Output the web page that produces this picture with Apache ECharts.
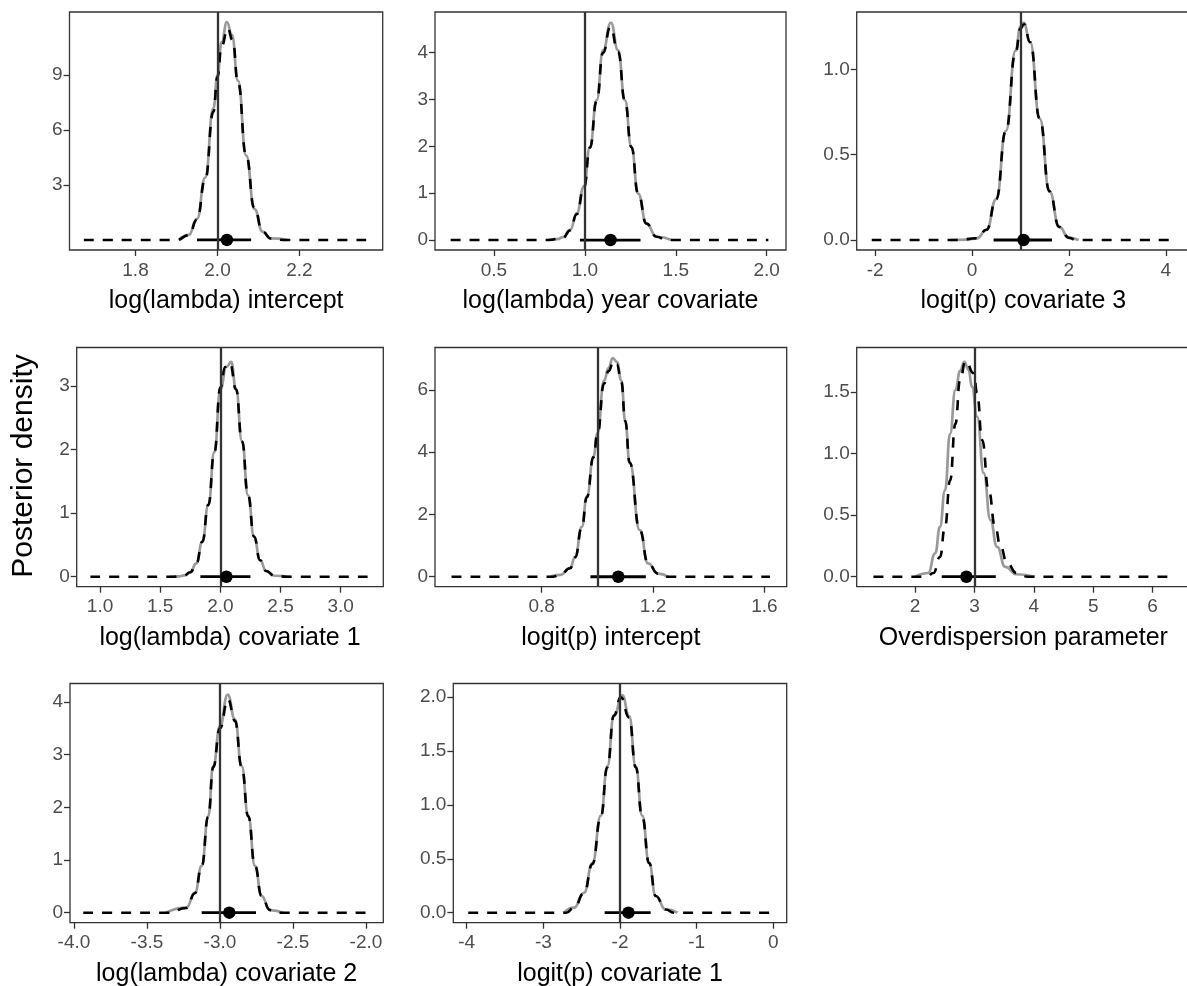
<!DOCTYPE html>
<html><head><meta charset="utf-8">
<script src="https://cdn.jsdelivr.net/npm/echarts@6/dist/echarts.min.js"></script>
<style>html,body{margin:0;padding:0;background:#fff}#c{width:1187px;height:986px}</style>
</head><body><div id="c"></div>
<script>
// ---------- DATA ----------
const titles = ["log(lambda) intercept","log(lambda) year covariate","logit(p) covariate 3",
  "log(lambda) covariate 1","logit(p) intercept","Overdispersion parameter",
  "log(lambda) covariate 2","logit(p) covariate 1"];

const xLimits = [[1.639,2.403],[0.176,2.106],[-2.38,4.50],[0.806,3.354],[0.4166,1.68],[1.018,6.63],[-4.027,-1.881],[-4.175,0.175]];
const yLimits = [[-0.55,12.45],[-0.213,4.87],[-0.0586,1.337],[-0.157,3.607],[-0.32,7.36],[-0.081,1.86],[-0.19,4.35],[-0.093,2.127]];

const xTicks = [[1.8,2.0,2.2],[0.5,1.0,1.5,2.0],[-2,0,2,4],[1.0,1.5,2.0,2.5,3.0],[0.8,1.2,1.6],[2,3,4,5,6],[-4,-3.5,-3,-2.5,-2],[-4,-3,-2,-1,0]];
const xTickLabels = [["1.8","2.0","2.2"],["0.5","1.0","1.5","2.0"],["-2","0","2","4"],["1.0","1.5","2.0","2.5","3.0"],["0.8","1.2","1.6"],["2","3","4","5","6"],["-4.0","-3.5","-3.0","-2.5","-2.0"],["-4","-3","-2","-1","0"]];
const yTicks = [[3,6,9],[0,1,2,3,4],[0,0.5,1.0],[0,1,2,3],[0,2,4,6],[0,0.5,1.0,1.5],[0,1,2,3,4],[0,0.5,1.0,1.5,2.0]];
const yTickLabels = [["3","6","9"],["0","1","2","3","4"],["0.0","0.5","1.0"],["0","1","2","3"],["0","2","4","6"],["0.0","0.5","1.0","1.5"],["0","1","2","3","4"],["0.0","0.5","1.0","1.5","2.0"]];

const trueValues = [2.0,1.0,1.0,2.0,1.0,3.0,-3.0,-2.0];
const pointEstimates = [2.023,1.141,1.064,2.05,1.075,2.865,-2.936,-1.89];
const ciLower = [1.95,0.973,0.446,1.834,0.975,2.45,-3.125,-2.2];
const ciUpper = [2.082,1.306,1.65,2.25,1.174,3.36,-2.753,-1.6];

const p1Grey = [[1.905,0],[1.93,0.28],[1.95,1.15],[1.97,3.4],[1.99,7.2],[2.00,9.0],[2.01,10.8],[2.023,11.9],[2.035,11.2],[2.05,8.7],[2.07,4.6],[2.09,1.7],[2.11,0.45],[2.13,0.08],[2.17,0]];
const p1Dash = [[1.674,0],[1.90,0],[1.93,0.25],[1.95,1.1],[1.97,3.3],[1.99,7.0],[2.00,8.9],[2.01,10.6],[2.025,11.55],[2.037,10.9],[2.05,8.6],[2.07,4.6],[2.09,1.75],[2.11,0.45],[2.13,0.08],[2.16,0],[2.368,0]];

const p2Grey = [[0.797,0],[0.85,0.02],[0.88,0.06],[0.92,0.22],[0.955,0.57],[0.995,1.14],[1.028,1.99],[1.065,2.99],[1.10,4.05],[1.143,4.64],[1.183,4.05],[1.22,2.99],[1.256,1.99],[1.293,0.99],[1.339,0.35],[1.394,0.07],[1.476,0]];
const p2Dash = [[0.262,0],[0.80,0],[0.88,0.05],[0.92,0.21],[0.955,0.55],[0.995,1.12],[1.028,1.97],[1.065,2.97],[1.10,4.0],[1.14,4.55],[1.183,4.02],[1.22,2.98],[1.256,1.98],[1.293,0.99],[1.339,0.35],[1.394,0.07],[1.45,0],[2.009,0]];

const p3Grey = [[-0.45,0],[-0.1,0.002],[0.1,0.01],[0.3,0.06],[0.5,0.24],[0.7,0.64],[0.9,1.11],[1.0,1.25],[1.065,1.275],[1.2,1.16],[1.4,0.71],[1.6,0.285],[1.8,0.077],[2.0,0.013],[2.2,0]];
const p3Dash = [[-2.07,0],[-0.3,0],[0.1,0.01],[0.3,0.06],[0.5,0.24],[0.7,0.64],[0.9,1.10],[1.0,1.24],[1.075,1.265],[1.2,1.16],[1.4,0.71],[1.6,0.285],[1.8,0.077],[2.0,0.013],[2.15,0],[4.19,0]];

const p4Grey = [[1.58,0],[1.65,0.005],[1.7,0.02],[1.75,0.07],[1.8,0.21],[1.85,0.55],[1.9,1.13],[1.95,1.96],[2.0,2.95],[2.05,3.3],[2.09,3.38],[2.13,2.95],[2.18,2.13],[2.23,1.28],[2.28,0.63],[2.33,0.26],[2.38,0.09],[2.45,0.015],[2.58,0]];
const p4Dash = [[0.92,0],[1.6,0],[1.7,0.02],[1.75,0.07],[1.8,0.21],[1.85,0.55],[1.9,1.13],[1.95,1.96],[2.0,2.98],[2.04,3.3],[2.08,3.36],[2.13,2.95],[2.18,2.13],[2.23,1.28],[2.28,0.63],[2.33,0.26],[2.38,0.09],[2.45,0.015],[2.55,0],[3.24,0]];

const p5Grey = [[0.83,0],[0.866,0.06],[0.902,0.28],[0.92,0.64],[0.944,1.6],[0.962,2.57],[0.986,3.86],[1.0,4.6],[1.024,6.3],[1.04,6.7],[1.055,7.02],[1.07,6.9],[1.086,6.3],[1.10,5.0],[1.116,3.66],[1.152,1.5],[1.182,0.43],[1.218,0.1],[1.254,0]];
const p5Dash = [[0.476,0],[0.84,0],[0.866,0.06],[0.902,0.27],[0.92,0.62],[0.944,1.58],[0.962,2.55],[0.986,3.84],[1.0,4.58],[1.024,6.2],[1.04,6.6],[1.058,6.92],[1.07,6.82],[1.086,6.25],[1.10,5.0],[1.116,3.66],[1.152,1.5],[1.182,0.43],[1.218,0.1],[1.25,0],[1.62,0]];

const p6Grey = [[2.0,0],[2.22,0.03],[2.34,0.19],[2.42,0.405],[2.505,0.70],[2.59,1.16],[2.68,1.514],[2.76,1.67],[2.83,1.744],[2.9,1.68],[2.96,1.54],[3.045,1.30],[3.157,0.84],[3.27,0.46],[3.38,0.243],[3.52,0.08],[3.71,0.02],[4.02,0]];
const p6Dash = [[1.3,0],[2.2,0],[2.31,0.03],[2.42,0.16],[2.505,0.405],[2.59,0.78],[2.68,1.24],[2.76,1.6],[2.85,1.75],[2.99,1.65],[3.045,1.49],[3.13,1.11],[3.24,0.70],[3.35,0.405],[3.44,0.243],[3.55,0.11],[3.71,0.03],[3.9,0],[6.37,0]];

const p7Grey = [[-3.37,0],[-3.23,0.095],[-3.171,0.38],[-3.125,0.89],[-3.08,1.83],[-3.046,2.78],[-3.0,3.54],[-2.947,4.14],[-2.897,3.67],[-2.851,2.78],[-2.806,1.83],[-2.76,0.89],[-2.715,0.32],[-2.658,0.05],[-2.566,0]];
const p7Dash = [[-3.936,0],[-3.35,0],[-3.23,0.09],[-3.171,0.37],[-3.125,0.88],[-3.08,1.82],[-3.046,2.76],[-3.0,3.5],[-2.945,4.05],[-2.897,3.64],[-2.851,2.77],[-2.806,1.83],[-2.76,0.89],[-2.715,0.32],[-2.658,0.05],[-2.6,0],[-1.973,0]];

const p8Grey = [[-2.73,0],[-2.6,0.046],[-2.47,0.185],[-2.36,0.46],[-2.25,0.90],[-2.165,1.36],[-2.08,1.825],[-1.97,2.016],[-1.88,1.825],[-1.795,1.36],[-1.71,0.9],[-1.62,0.46],[-1.534,0.155],[-1.404,0.03],[-1.25,0]];
const p8Dash = [[-3.98,0],[-2.7,0],[-2.6,0.045],[-2.47,0.18],[-2.36,0.45],[-2.25,0.89],[-2.165,1.35],[-2.08,1.83],[-1.99,2.0],[-1.88,1.81],[-1.795,1.35],[-1.71,0.89],[-1.62,0.46],[-1.534,0.155],[-1.404,0.03],[-1.3,0],[-0.02,0]];

const greyCurves = [p1Grey,p2Grey,p3Grey,p4Grey,p5Grey,p6Grey,p7Grey,p8Grey];
const dashCurves = [p1Dash,p2Dash,p3Dash,p4Dash,p5Dash,p6Dash,p7Dash,p8Dash];

// ---------- LAYOUT / STYLE ----------
const gridBoxes = [
  {left:69.5, top:12, width:313.2, height:238},
  {left:435, top:12, width:351, height:238},
  {left:856.7, top:12, width:333.3, height:238},
  {left:76.7, top:347.5, width:306.6, height:239.2},
  {left:435, top:347.5, width:351.7, height:239.2},
  {left:856.7, top:347.5, width:333.3, height:239.2},
  {left:70, top:683.5, width:313.3, height:239.2},
  {left:453.3, top:683.5, width:333.4, height:239.2}
];
const FONT = 'Liberation Sans, Arial, sans-serif';
const tickColor = '#333333';

const grid = [], xAxis = [], yAxis = [], series = [];
for (let i = 0; i < 8; i++) {
  grid.push(Object.assign({show:true, borderColor:'#333333', borderWidth:1.3, backgroundColor:'#fff',
    containLabel:false, outerBoundsMode:'none'}, gridBoxes[i]));
  const xt = xTicks[i], xl = xTickLabels[i], yt = yTicks[i], yl = yTickLabels[i];
  xAxis.push({
    type:'value', gridIndex:i, min:xLimits[i][0], max:xLimits[i][1],
    name:titles[i], nameLocation:'middle', nameGap:39,
    nameTextStyle:{fontFamily:FONT, fontSize:25, color:'#000'},
    axisLine:{show:false, onZero:false},
    axisTick:{show:true, length:6, customValues:xt, lineStyle:{color:tickColor, width:1.3}},
    axisLabel:{customValues:xt, margin:11, fontFamily:FONT, fontSize:19, color:'#4d4d4d',
      formatter:(v)=>{const k=xt.indexOf(v); return k>=0?xl[k]:'';}},
    splitLine:{show:false}
  });
  yAxis.push({
    type:'value', gridIndex:i, min:yLimits[i][0], max:yLimits[i][1],
    axisLine:{show:false, onZero:false},
    axisTick:{show:true, length:6, customValues:yt, lineStyle:{color:tickColor, width:1.3}},
    axisLabel:{customValues:yt, margin:7, fontFamily:FONT, fontSize:19, color:'#4d4d4d',
      formatter:(v)=>{const k=yt.indexOf(v); return k>=0?yl[k]:'';}},
    splitLine:{show:false}
  });
  series.push({
    type:'line', xAxisIndex:i, yAxisIndex:i, data:greyCurves[i], smooth:true, smoothMonotone:'x',
    symbol:'none', silent:true, z:2, lineStyle:{color:'#9a9a9a', width:2.7}
  });
  series.push({
    type:'line', xAxisIndex:i, yAxisIndex:i, data:dashCurves[i], smooth:true, smoothMonotone:'x',
    symbol:'none', silent:true, z:3, lineStyle:{color:'#000', width:2.6, type:[10,9]}
  });
  series.push({
    type:'line', xAxisIndex:i, yAxisIndex:i, data:[[ciLower[i],0],[ciUpper[i],0]],
    symbol:'none', silent:true, z:4, lineStyle:{color:'#000', width:2.8},
    markLine:{symbol:['none','none'], silent:true, label:{show:false},
      lineStyle:{color:'#333333', width:2.3, type:'solid'}, data:[{xAxis:trueValues[i]}]}
  });
  series.push({
    type:'scatter', xAxisIndex:i, yAxisIndex:i, data:[[pointEstimates[i],0]],
    symbol:'circle', symbolSize:12.5, silent:true, z:5, itemStyle:{color:'#000', opacity:1}
  });
}

const chart = echarts.init(document.getElementById('c'), null, {renderer:'canvas'});
chart.setOption({
  animation:false,
  backgroundColor:'#fff',
  grid, xAxis, yAxis, series,
  graphic:[{type:'text', x:24, y:466, rotation:Math.PI/2,
    style:{text:'Posterior density', fontFamily:FONT, fontSize:30, fill:'#000', align:'center', verticalAlign:'middle'}}]
});
</script></body></html>
